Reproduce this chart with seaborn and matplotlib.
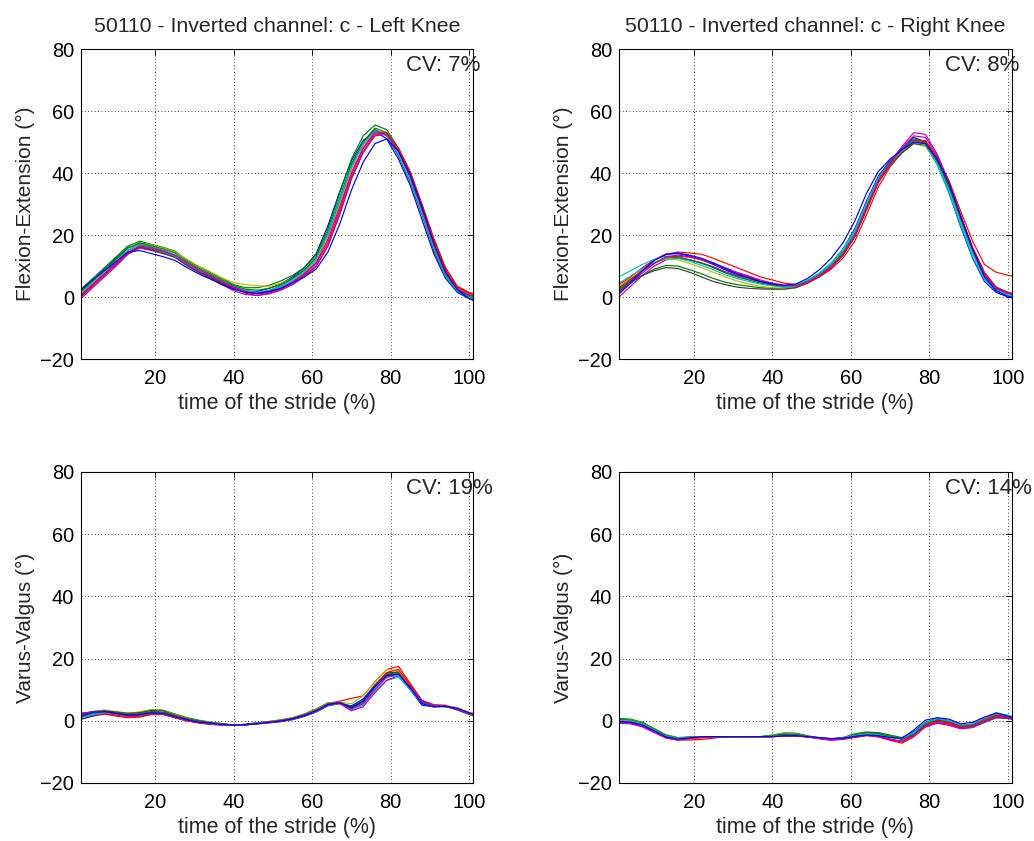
import numpy as np
import pandas as pd
import matplotlib
matplotlib.use("Agg")
import matplotlib.pyplot as plt
import seaborn as sns

# ---------------- data ----------------
PCT = [1, 4, 7, 10, 13, 16, 19, 22, 25, 28, 31, 34, 37, 40, 43, 46, 49, 52, 55, 58,
       61, 64, 67, 70, 73, 76, 79, 82, 85, 88, 91, 94, 97, 100, 101]

# Flexion-Extension, left knee (one list per stride)
FE_LEFT = [
    [2.0, 5.5, 9.0, 12.5, 16.0, 17.0, 16.0, 15.0, 13.5, 10.8, 8.5, 6.5, 4.5, 2.8, 1.8,
     1.8, 2.8, 4.2, 6.5, 9.5, 14.0, 23.0, 34.0, 44.0, 50.5, 53.5, 51.0, 44.5, 36.0, 25.0,
     14.0, 6.0, 1.5, -0.5, -1.0],
    [2.5, 6.0, 9.5, 13.0, 16.5, 18.0, 17.0, 16.0, 14.8, 12.0, 9.8, 8.0, 6.0, 4.0, 3.0,
     3.0, 3.8, 5.2, 7.0, 9.5, 13.5, 22.0, 33.5, 44.5, 52.0, 55.5, 54.0, 48.0, 39.5, 28.5,
     16.5, 7.5, 2.5, 0.5, 0.3],
    [0.0, 3.5, 7.0, 10.5, 14.0, 16.2, 15.5, 14.5, 13.0, 10.5, 8.5, 6.8, 4.8, 3.0, 1.2,
     0.5, 1.2, 2.5, 4.5, 7.0, 10.0, 16.5, 26.5, 38.0, 46.5, 52.0, 52.5, 48.0, 40.5, 30.0,
     19.0, 9.5, 3.5, 1.5, 1.2],
    [1.5, 5.0, 8.3, 11.8, 15.2, 17.2, 16.2, 15.0, 13.5, 11.2, 9.0, 7.2, 5.2, 3.5, 2.2,
     1.5, 2.0, 3.2, 5.2, 7.8, 11.5, 19.5, 30.5, 41.5, 49.0, 53.5, 52.5, 47.0, 38.5, 28.0,
     16.5, 7.0, 2.0, 0.0, -0.3],
    [-0.5, 3.0, 6.5, 10.0, 13.8, 15.8, 15.0, 14.0, 12.8, 10.2, 8.0, 6.0, 4.0, 2.0, 0.8,
     0.5, 1.0, 2.2, 4.0, 6.5, 9.8, 16.5, 27.0, 38.5, 47.0, 52.5, 52.5, 47.5, 40.0, 29.5,
     18.0, 8.5, 3.0, 1.0, 0.5],
    [1.0, 4.8, 8.5, 12.0, 15.8, 17.5, 16.8, 15.8, 14.5, 12.2, 10.0, 8.2, 6.2, 4.6, 4.0,
     3.6, 3.5, 4.5, 6.0, 8.5, 12.0, 19.0, 29.5, 40.5, 48.5, 53.5, 53.0, 47.5, 39.5, 29.0,
     17.5, 8.0, 2.8, 1.0, 0.8],
    [0.5, 4.0, 7.8, 11.2, 14.5, 16.0, 15.2, 14.2, 12.8, 10.2, 8.0, 6.2, 4.2, 2.5, 1.5,
     1.2, 2.0, 3.6, 6.0, 8.8, 12.5, 20.5, 31.5, 42.5, 50.0, 54.0, 52.0, 45.5, 37.0, 26.5,
     15.0, 6.5, 1.8, -0.3, -0.5],
    [1.8, 5.2, 8.8, 12.2, 15.8, 17.5, 16.5, 15.5, 14.2, 11.5, 9.3, 7.5, 5.5, 3.6, 2.5,
     2.2, 2.8, 4.0, 6.0, 8.8, 12.8, 21.0, 32.0, 43.0, 50.0, 54.5, 53.0, 47.0, 38.5, 27.5,
     16.0, 7.0, 2.2, 0.2, 0.0],
    [0.8, 4.2, 7.5, 11.0, 14.5, 16.5, 15.8, 14.8, 13.2, 10.8, 8.6, 6.8, 4.8, 3.0, 1.6,
     1.0, 1.6, 2.8, 4.8, 7.3, 10.8, 17.5, 28.0, 39.5, 48.0, 53.0, 53.0, 48.0, 40.0, 29.5,
     18.5, 9.0, 3.2, 1.2, 1.0],
    [1.2, 4.6, 8.0, 11.5, 15.0, 16.8, 15.8, 14.6, 13.2, 10.8, 8.7, 7.0, 5.0, 3.3, 2.0,
     1.5, 2.2, 3.5, 5.6, 8.2, 12.2, 20.5, 31.5, 42.0, 49.5, 53.5, 52.0, 46.0, 37.5, 27.0,
     15.8, 6.8, 2.0, 0.0, -0.3],
    [0.2, 3.8, 7.2, 10.8, 14.2, 16.5, 15.8, 14.8, 13.5, 11.0, 8.8, 7.0, 5.0, 3.2, 1.8,
     1.0, 1.5, 2.8, 4.8, 7.5, 11.0, 18.5, 29.0, 40.0, 48.0, 53.0, 52.5, 47.0, 39.0, 28.5,
     17.0, 8.0, 2.5, 0.8, 0.5],
    [2.5, 5.5, 8.5, 11.5, 14.5, 15.0, 14.0, 13.0, 11.8, 9.5, 7.5, 5.8, 4.0, 2.5, 1.5,
     1.2, 1.8, 2.8, 4.5, 6.5, 9.0, 14.5, 23.5, 34.5, 43.5, 49.5, 51.0, 47.0, 39.5, 29.0,
     17.5, 8.0, 2.5, -0.5, -1.0],
]

# Flexion-Extension, right knee
FE_RIGHT = [
    [1.5, 5.0, 9.0, 12.0, 13.8, 14.0, 13.2, 12.0, 10.5, 8.8, 7.2, 6.0, 4.8, 3.8, 3.2,
     3.5, 5.2, 7.5, 10.8, 15.5, 22.0, 31.0, 39.0, 44.0, 48.0, 51.5, 50.0, 43.0, 33.5, 22.5,
     12.5, 5.0, 1.5, 0.0, -0.3],
    [2.0, 4.5, 7.0, 9.0, 10.2, 10.0, 8.8, 7.5, 6.0, 4.8, 4.0, 3.5, 3.0, 2.8, 2.8,
     3.2, 4.8, 7.0, 10.0, 14.0, 20.0, 29.0, 37.5, 43.0, 47.5, 50.5, 49.5, 43.5, 35.0, 24.5,
     14.5, 6.5, 2.5, 1.0, 0.8],
    [4.0, 6.5, 9.5, 12.0, 13.8, 14.5, 14.2, 13.8, 12.5, 11.0, 9.5, 8.0, 6.5, 5.5, 4.5,
     4.0, 4.8, 6.5, 9.0, 12.5, 18.0, 26.5, 35.5, 42.0, 46.5, 50.0, 50.0, 45.0, 37.5, 27.5,
     18.0, 10.5, 8.0, 7.0, 6.8],
    [6.5, 8.5, 10.5, 12.2, 13.2, 13.0, 12.0, 10.8, 9.5, 8.0, 6.8, 5.8, 4.8, 4.0, 3.6,
     3.8, 5.5, 7.8, 11.0, 15.5, 21.5, 30.5, 38.5, 43.5, 47.5, 50.5, 49.0, 42.5, 33.5, 23.0,
     13.0, 5.5, 2.0, 0.5, 0.3],
    [0.0, 3.5, 7.0, 10.0, 12.0, 12.5, 12.0, 11.0, 9.8, 8.2, 7.0, 6.0, 5.0, 4.2, 3.5,
     3.4, 4.6, 6.8, 9.5, 13.5, 19.5, 28.5, 37.5, 43.5, 48.5, 53.0, 52.5, 46.0, 37.0, 26.0,
     15.5, 7.0, 2.8, 1.2, 1.0],
    [3.5, 6.0, 8.8, 11.0, 12.2, 12.0, 10.8, 9.5, 8.0, 6.5, 5.2, 4.2, 3.5, 3.0, 2.8,
     3.0, 4.5, 6.8, 9.8, 14.0, 20.0, 29.0, 37.0, 42.5, 46.5, 49.5, 48.5, 43.0, 35.0, 25.0,
     15.0, 7.0, 2.8, 1.2, 1.0],
    [2.5, 4.8, 7.0, 8.5, 9.5, 9.2, 8.0, 6.5, 5.0, 4.0, 3.2, 2.8, 2.6, 2.5, 2.5,
     3.0, 4.5, 6.5, 9.5, 13.5, 19.5, 28.5, 37.0, 42.5, 46.5, 49.5, 49.0, 43.5, 35.5, 25.5,
     15.5, 7.5, 3.0, 1.5, 1.2],
    [2.5, 5.5, 8.5, 11.0, 12.5, 12.8, 12.0, 11.0, 9.5, 7.8, 6.5, 5.5, 4.5, 3.8, 3.4,
     3.6, 5.0, 7.2, 10.2, 14.5, 20.5, 29.5, 38.0, 43.5, 47.5, 51.0, 50.0, 44.0, 35.5, 25.0,
     15.0, 7.0, 2.8, 1.2, 1.0],
    [3.0, 5.8, 8.5, 11.0, 12.8, 13.2, 12.8, 12.0, 10.8, 9.2, 7.8, 6.5, 5.2, 4.2, 3.5,
     3.4, 4.5, 6.6, 9.5, 13.5, 19.5, 28.0, 37.0, 43.0, 47.0, 50.5, 50.5, 45.0, 36.5, 26.0,
     16.0, 8.0, 3.2, 1.5, 1.2],
    [4.5, 6.8, 9.2, 11.2, 12.5, 12.5, 11.5, 10.2, 8.8, 7.2, 6.0, 5.0, 4.2, 3.6, 3.2,
     3.5, 5.0, 7.4, 10.5, 15.0, 21.0, 30.0, 38.0, 43.2, 47.2, 50.2, 49.0, 43.0, 34.5, 24.0,
     14.0, 6.0, 2.2, 0.8, 0.5],
    [1.5, 4.5, 7.8, 10.8, 13.0, 13.5, 13.0, 12.2, 11.0, 9.5, 8.0, 6.8, 5.5, 4.5, 3.8,
     3.6, 4.8, 7.0, 9.8, 13.8, 19.8, 28.8, 37.5, 43.2, 48.0, 52.0, 51.5, 45.5, 36.5, 25.8,
     15.5, 7.2, 2.8, 1.2, 1.0],
    [1.0, 4.5, 8.5, 11.8, 13.8, 14.2, 13.5, 12.5, 11.0, 9.2, 7.5, 6.2, 5.0, 4.2, 3.8,
     4.2, 6.0, 8.8, 12.5, 17.5, 24.5, 33.5, 40.5, 44.5, 47.5, 50.0, 49.5, 44.5, 36.5, 26.0,
     15.5, 6.5, 2.0, 0.2, 0.0],
]

# Varus-Valgus, left knee
VV_LEFT = [
    [0.5, 1.5, 2.2, 2.0, 1.8, 2.0, 2.5, 2.2, 1.2, 0.2, -0.5, -1.0, -1.3, -1.4, -1.3,
     -1.0, -0.6, -0.2, 0.4, 1.4, 2.8, 4.8, 5.5, 4.8, 7.0, 11.5, 15.0, 15.0, 10.0, 5.0,
     4.5, 4.8, 4.2, 2.5, 2.0],
    [2.0, 2.8, 3.2, 2.6, 2.2, 2.8, 3.6, 3.4, 2.2, 1.0, 0.2, -0.4, -0.9, -1.4, -1.1,
     -0.6, -0.2, 0.3, 1.0, 2.2, 3.8, 5.8, 6.0, 4.0, 5.5, 10.0, 14.5, 16.0, 11.5, 6.5,
     5.0, 4.5, 3.5, 2.0, 1.8],
    [1.5, 2.0, 2.2, 1.5, 1.0, 1.2, 2.0, 2.0, 1.0, 0.0, -0.6, -1.0, -1.2, -1.4, -1.2,
     -0.8, -0.3, 0.2, 0.8, 2.0, 3.5, 5.5, 6.3, 7.2, 8.0, 12.5, 16.5, 17.5, 12.0, 6.5,
     5.0, 4.8, 3.6, 2.2, 2.0],
    [1.0, 2.2, 2.8, 2.3, 1.8, 2.0, 2.8, 2.6, 1.5, 0.5, -0.2, -0.7, -1.1, -1.4, -1.2,
     -0.8, -0.5, -0.1, 0.6, 1.6, 3.0, 5.0, 5.6, 3.5, 5.0, 9.5, 13.0, 14.0, 10.0, 5.5,
     4.5, 4.5, 3.8, 2.0, 1.5],
    [2.5, 2.8, 3.0, 2.2, 1.5, 1.5, 2.2, 2.0, 1.0, 0.0, -0.7, -1.2, -1.4, -1.4, -1.3,
     -1.0, -0.7, -0.3, 0.4, 1.5, 3.0, 5.0, 5.5, 3.2, 4.5, 9.0, 13.0, 14.5, 11.0, 6.5,
     5.2, 5.0, 3.5, 2.2, 2.0],
    [2.0, 3.0, 3.5, 3.0, 2.5, 2.8, 3.5, 3.3, 2.0, 0.8, 0.0, -0.5, -1.0, -1.4, -1.1,
     -0.7, -0.3, 0.2, 0.9, 2.0, 3.5, 5.6, 6.0, 5.5, 8.0, 12.5, 16.5, 16.0, 11.0, 6.0,
     5.0, 5.0, 4.2, 2.8, 2.5],
    [2.2, 3.0, 3.2, 2.8, 2.4, 2.6, 3.3, 3.2, 1.8, 0.7, 0.0, -0.6, -1.0, -1.4, -1.2,
     -0.8, -0.4, 0.1, 0.8, 1.9, 3.3, 5.4, 5.9, 4.5, 6.5, 11.5, 15.5, 15.5, 10.5, 6.0,
     4.8, 4.6, 3.8, 2.4, 2.0],
    [1.8, 2.6, 3.0, 2.5, 2.0, 2.3, 3.0, 2.8, 1.6, 0.5, -0.2, -0.7, -1.1, -1.4, -1.2,
     -0.8, -0.4, 0.0, 0.7, 1.8, 3.2, 5.3, 5.8, 4.5, 6.5, 11.0, 15.0, 15.5, 10.5, 6.0,
     4.8, 4.7, 3.8, 2.3, 2.0],
    [1.2, 1.8, 2.2, 1.8, 1.2, 1.4, 2.2, 2.1, 1.0, 0.0, -0.6, -1.1, -1.3, -1.4, -1.3,
     -0.9, -0.5, 0.0, 0.7, 1.8, 3.2, 5.2, 5.8, 4.0, 6.0, 11.0, 15.5, 16.5, 11.5, 6.2,
     5.0, 4.8, 3.8, 2.2, 1.8],
    [1.0, 2.0, 2.6, 2.2, 1.6, 1.8, 2.5, 2.3, 1.3, 0.3, -0.4, -0.9, -1.2, -1.4, -1.3,
     -0.9, -0.5, -0.1, 0.5, 1.5, 2.9, 5.0, 5.6, 4.0, 5.8, 10.5, 14.0, 14.5, 10.0, 5.5,
     4.6, 4.6, 4.0, 2.4, 2.0],
    [2.2, 2.7, 2.8, 2.2, 1.6, 1.8, 2.5, 2.4, 1.4, 0.4, -0.4, -0.9, -1.2, -1.4, -1.3,
     -0.9, -0.5, -0.1, 0.6, 1.6, 3.0, 5.1, 5.7, 3.8, 5.5, 10.0, 14.0, 15.0, 11.0, 6.2,
     5.0, 4.8, 3.6, 2.3, 2.0],
    [1.5, 2.6, 3.0, 2.4, 1.8, 2.0, 2.6, 2.4, 1.3, 0.3, -0.4, -0.8, -1.2, -1.4, -1.3,
     -0.9, -0.5, -0.1, 0.6, 1.7, 3.2, 5.2, 5.8, 4.2, 6.2, 11.0, 14.5, 15.0, 10.5, 5.5,
     4.5, 4.6, 4.0, 2.6, 2.2],
]

# Varus-Valgus, right knee
VV_RIGHT = [
    [0.3, 0.0, -1.0, -2.8, -4.8, -5.5, -5.3, -5.1, -5.1, -5.1, -5.1, -5.1, -5.1, -5.1, -4.9,
     -4.8, -5.1, -5.5, -5.8, -5.5, -4.9, -4.4, -4.6, -5.2, -5.5, -3.5, -0.5, 0.8, 0.0, -1.5,
     -1.3, 0.0, 1.0, 0.8, 0.6],
    [0.8, 0.5, -0.5, -2.5, -4.5, -5.4, -5.2, -5.1, -5.1, -5.1, -5.1, -5.1, -5.1, -4.6, -3.9,
     -4.0, -4.8, -5.6, -6.2, -5.4, -4.2, -3.6, -3.8, -4.6, -5.4, -4.0, -1.2, 0.0, -0.8, -2.2,
     -2.0, -0.5, 1.0, 1.2, 1.0],
    [-0.5, -0.6, -1.6, -3.4, -5.4, -6.2, -6.2, -6.0, -5.6, -5.1, -5.1, -5.1, -5.1, -5.1, -4.8,
     -4.8, -5.2, -5.8, -6.3, -6.0, -5.4, -4.8, -5.2, -6.3, -7.2, -5.2, -1.8, -0.5, -1.0, -2.0,
     -1.0, 0.8, 2.0, 1.2, 1.0],
    [0.0, -0.2, -1.0, -2.8, -4.8, -5.6, -5.3, -5.1, -5.1, -5.1, -5.1, -5.1, -5.1, -5.0, -4.6,
     -4.6, -5.0, -5.4, -5.8, -5.5, -4.8, -4.3, -4.6, -5.4, -5.8, -4.0, -0.8, 0.5, -0.2, -1.6,
     -1.2, 0.5, 2.2, 1.5, 1.2],
    [-0.8, -1.0, -2.0, -3.8, -5.6, -6.2, -5.6, -5.1, -5.1, -5.1, -5.1, -5.1, -5.1, -5.1, -4.9,
     -4.8, -5.2, -5.7, -6.0, -5.8, -5.0, -4.5, -5.0, -6.0, -6.8, -5.0, -2.0, -0.8, -1.5, -2.6,
     -2.2, -0.5, 1.0, 0.8, 0.5],
    [0.5, 0.2, -0.8, -2.6, -4.6, -5.5, -5.3, -5.1, -5.1, -5.1, -5.1, -5.1, -5.1, -4.7, -4.0,
     -4.2, -5.0, -5.6, -6.0, -5.6, -4.6, -4.0, -4.2, -5.0, -5.8, -4.5, -1.0, 0.5, -0.3, -1.8,
     -1.8, -0.2, 1.5, 1.0, 0.8],
    [0.2, -0.2, -1.2, -3.0, -5.0, -5.8, -5.4, -5.1, -5.1, -5.1, -5.1, -5.1, -5.1, -5.0, -4.5,
     -4.5, -5.1, -5.5, -5.9, -5.5, -4.5, -3.8, -4.2, -5.2, -6.0, -4.5, -1.2, 0.2, -0.5, -1.8,
     -1.6, 0.0, 1.2, 0.8, 0.6],
    [0.5, 0.2, -0.8, -2.7, -4.7, -5.6, -5.3, -5.1, -5.1, -5.1, -5.1, -5.1, -5.1, -4.8, -4.2,
     -4.3, -5.0, -5.6, -6.0, -5.5, -4.4, -3.8, -4.0, -4.9, -5.8, -4.3, -0.8, 0.6, -0.2, -1.6,
     -1.6, 0.0, 1.6, 1.2, 1.0],
    [-0.2, -0.4, -1.4, -3.2, -5.2, -6.0, -5.8, -5.5, -5.3, -5.1, -5.1, -5.1, -5.1, -5.1, -4.9,
     -4.9, -5.2, -5.6, -6.0, -5.8, -5.2, -4.6, -4.9, -5.9, -6.6, -4.8, -1.5, -0.2, -0.6, -1.8,
     -1.2, 0.5, 1.8, 1.0, 0.8],
    [0.2, 0.0, -1.0, -2.9, -4.9, -5.7, -5.4, -5.1, -5.1, -5.1, -5.1, -5.1, -5.1, -5.0, -4.7,
     -4.7, -5.1, -5.5, -5.8, -5.4, -4.7, -4.2, -4.5, -5.3, -5.7, -3.8, -0.6, 0.7, 0.0, -1.4,
     -1.0, 0.8, 2.6, 1.8, 1.4],
    [-0.5, -0.8, -1.8, -3.6, -5.5, -6.1, -5.6, -5.1, -5.1, -5.1, -5.1, -5.1, -5.1, -5.1, -4.9,
     -4.8, -5.2, -5.7, -6.1, -5.9, -5.2, -4.7, -5.1, -6.1, -6.5, -4.8, -1.8, -0.6, -1.2, -2.4,
     -2.0, -0.3, 1.2, 0.9, 0.6],
    [-0.3, -0.5, -1.4, -3.2, -5.2, -5.9, -5.5, -5.1, -5.1, -5.1, -5.1, -5.1, -5.1, -5.1, -4.8,
     -4.8, -5.1, -5.4, -5.7, -5.6, -5.0, -4.6, -4.8, -5.4, -5.6, -3.0, 0.2, 1.0, 0.5, -1.0,
     -0.5, 1.2, 2.5, 1.5, 1.0],
]

TITLES = ["50110 - Inverted channel: c - Left Knee",
          "50110 - Inverted channel: c - Right Knee", "", ""]
YLABELS = ["Flexion-Extension (°)", "Flexion-Extension (°)",
           "Varus-Valgus (°)", "Varus-Valgus (°)"]
CV_TEXT = ["CV: 7%", "CV: 8%", "CV: 19%", "CV: 14%"]
XLABEL = "time of the stride (%)"
XTICKS = [20, 40, 60, 80, 100]
YTICKS = [-20, 0, 20, 40, 60, 80]

# MATLAB classic colour order (cycled over the strides)
LINE_COLORS = [(0, 0, 1), (0, 0.5, 0), (1, 0, 0), (0, 0.75, 0.75),
               (0.75, 0, 0.75), (0.75, 0.75, 0), (0.25, 0.25, 0.25),
               (0, 0.5, 0), (1, 0, 0), (0, 0.75, 0.75), (0.75, 0, 0.75), (0, 0, 1)]

# ---------------- styling ----------------
sns.set_style("white")
plt.rcParams["font.family"] = ["Liberation Sans", "DejaVu Sans"]

fig = plt.figure(figsize=(10.34, 8.41), dpi=100)
positions = [
    [0.0783, 0.5731, 0.3791, 0.3686],
    [0.5986, 0.5731, 0.3801, 0.3686],
    [0.0783, 0.0690, 0.3791, 0.3698],
    [0.5986, 0.0690, 0.3801, 0.3698],
]
panels = [FE_LEFT, FE_RIGHT, VV_LEFT, VV_RIGHT]

for i, strides in enumerate(panels):
    ax = fig.add_axes(positions[i])
    n = len(strides)
    for s in strides:
        assert len(s) == len(PCT)
    df = pd.DataFrame({
        "pct": np.tile(PCT, n),
        "angle": np.concatenate([np.asarray(s, float) for s in strides]),
        "stride": np.repeat(np.arange(n), len(PCT)),
    })
    sns.lineplot(data=df, x="pct", y="angle", hue="stride",
                 palette=LINE_COLORS[:n], estimator=None, sort=False,
                 legend=False, linewidth=0.85, ax=ax)
    ax.set_xlim(1, 101)
    ax.set_ylim(-20, 80)
    ax.set_xticks(XTICKS)
    ax.set_yticks(YTICKS)
    ax.set_axisbelow(True)
    ax.grid(True, color="black", linestyle=(0, (1, 3)), linewidth=0.6)
    ax.tick_params(direction="in", length=4, width=0.6, top=True, right=True,
                   labelsize=14.4, colors="black")
    ax.tick_params(axis="x", pad=7)
    ax.tick_params(axis="y", pad=5)
    for sp in ax.spines.values():
        sp.set_color("black")
        sp.set_linewidth(0.8)
    ax.set_xlabel(XLABEL, fontsize=15.5, labelpad=4)
    ax.set_ylabel(YLABELS[i], fontsize=15, labelpad=4)
    if TITLES[i]:
        ax.set_title(TITLES[i], fontsize=15.3, pad=12)
    ax.text(84, 72.8, CV_TEXT[i], fontsize=16, ha="left", va="baseline",
            clip_on=False)

fig.savefig("out.png", dpi=100)
